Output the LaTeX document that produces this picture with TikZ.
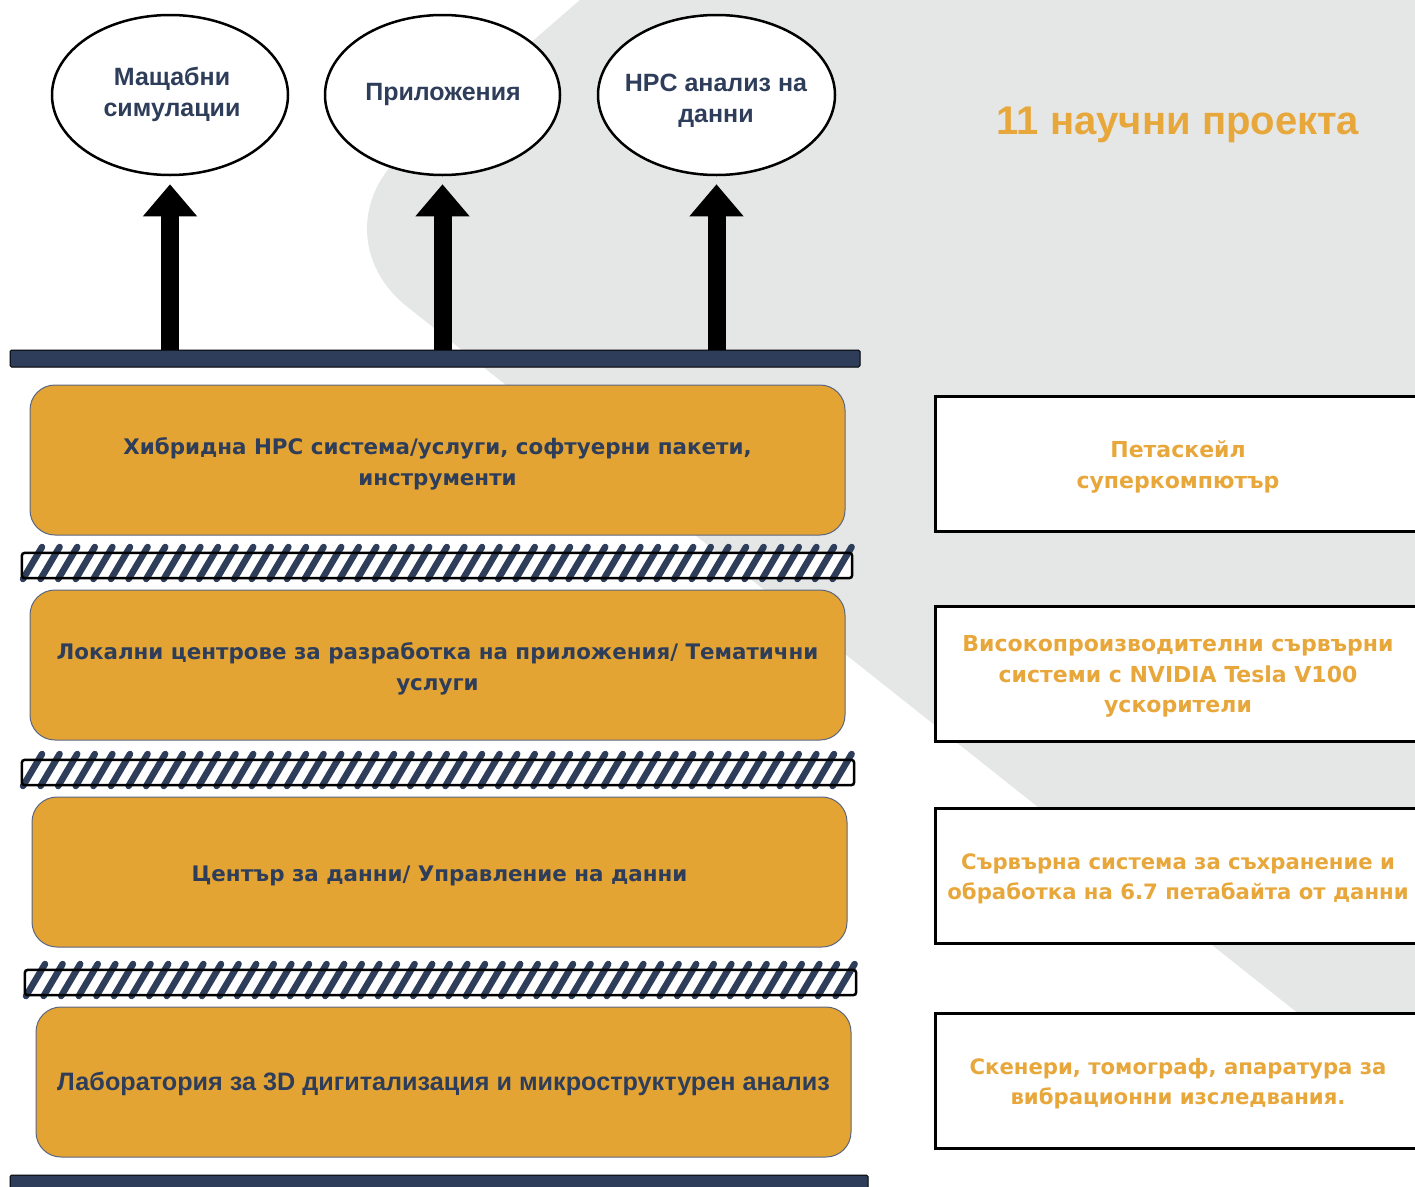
\documentclass[tikz,border=0pt]{standalone}
\usepackage{fontspec}
\setmainfont{DejaVu Sans}
\newfontfamily\arialf{Liberation Sans}
\usetikzlibrary{arrows.meta,shapes.geometric}
\definecolor{navy}{HTML}{2E3D5A}
\definecolor{orng}{HTML}{E4A433}
\definecolor{otext}{HTML}{E8A73A}
\definecolor{bggray}{HTML}{E5E6E6}
\definecolor{oborder}{HTML}{5A6680}
\newcommand{\hatchstripes}[4]{% x1,y1(top),x2,y2(bottom)
  \foreach \i in {0,...,46} {
    \pgfmathsetmacro\xx{#1+1+\i*17.6}
    \draw[navy, line width=6.5pt, line cap=round] (\xx,#4+1) -- (\xx+19,#2-6);
  }
}
\begin{document}
\begin{tikzpicture}[x=1pt,y=-1pt,
  ell/.style={draw=black, line width=2.5pt, fill=white, ellipse, inner sep=0pt},
  elltext/.style={font=\arialf\bfseries\fontsize{25}{31}\selectfont, text=navy, align=center},
  obox/.style={draw=oborder, line width=1pt, fill=orng, rounded corners=25pt, inner sep=0pt,
    minimum width=815pt, minimum height=150pt},
  otxt/.style={align=center, text=navy, inner sep=0pt, font=\bfseries\fontsize{21.4}{31}\selectfont},
  rbox/.style={draw=black, line width=3pt, fill=white, inner sep=0pt,
    minimum width=486pt, minimum height=135pt},
  rtxt/.style={align=center, text=otext, inner sep=0pt, font=\bfseries\fontsize{22}{30.5}\selectfont},
  rtxtsmall/.style={rtxt, font=\bfseries\fontsize{21.2}{30.5}\selectfont},
  navybar/.style={draw=black, line width=1pt, fill=navy, inner sep=0pt, rounded corners=1.5pt},
  hatchbox/.style={fill=white, inner sep=0pt},
  hatchline/.style={draw=black, line width=2.5pt, rounded corners=3pt},
  bigarrow/.style={line width=18pt, -{Triangle[width=52pt,length=32pt]}, shorten >=8pt}
]
\path[use as bounding box] (0,0) rectangle (1415,1186);
\clip (0,0) rectangle (1415,1186);
\fill[white] (0,0) rectangle (1415,1186);
\fill[bggray, rounded corners=120pt] (925,-300) -- (313,232) -- (1700,1332) -- (1700,-300) -- cycle;

% ellipses
\node[ell, minimum width=236pt, minimum height=160pt] (e1) at (170,95) {};
\node[ell, minimum width=235pt, minimum height=160pt] (e2) at (442.5,95) {};
\node[ell, minimum width=237pt, minimum height=160pt] (e3) at (716.5,95) {};
\node[elltext] (e1t) at (172,94) {Мащабни\\симулации};
\node[elltext] (e2t) at (443,94) {Приложения};
\node[elltext] (e3t) at (716,100.5) {HPC анализ на\\данни};

% top bar
\node[navybar, minimum width=850pt, minimum height=17pt] (topbar) at (435,358.5) {};
\draw[bigarrow] (topbar.north -| e1) -- (e1.south);
\draw[bigarrow] (topbar.north -| e2) -- (e2.south);
\draw[bigarrow] (topbar.north -| e3) -- (e3.south);

% layers
\node[obox] (l1) at (437.5,460) {};
\node[otxt] (l1t) at ([yshift=-3.5pt]l1.center) {Хибридна HPC система/услуги, софтуерни пакети,\\инструменти};
\node[obox] (l2) at (437.5,665) {};
\node[otxt] (l2t) at ([yshift=-3.5pt]l2.center) {Локални центрове за разработка на приложения/ Тематични\\услуги};
\node[obox] (l3) at (439.5,872) {};
\node[otxt] (l3t) at ([yshift=-3.5pt]l3.center) {Център за данни/ Управление на данни};
\node[obox] (l4) at (443.5,1082) {};
\node[otxt, font=\arialf\bfseries\fontsize{25.2}{30}\selectfont] (l4t) at ([yshift=-2pt]l4.center) {Лаборатория за 3D дигитализация и микроструктурен анализ};

% hatched separators
\node[hatchbox, minimum width=830pt, minimum height=25pt] (hb1) at (437,565.5) {};
\hatchstripes{22}{553}{852}{578}
\draw[hatchline] (hb1.south west) rectangle (hb1.north east);
\node[hatchbox, minimum width=832pt, minimum height=25pt] (hb2) at (438,772.5) {};
\hatchstripes{22}{760}{854}{785}
\draw[hatchline] (hb2.south west) rectangle (hb2.north east);
\node[hatchbox, minimum width=831pt, minimum height=25pt] (hb3) at (440.5,982.5) {};
\hatchstripes{25}{970}{856}{995}
\draw[hatchline] (hb3.south west) rectangle (hb3.north east);

% bottom bar
\node[navybar, minimum width=858pt, minimum height=22pt] (botbar) at (439,1186) {};

% title
\node[font=\arialf\bfseries\fontsize{40}{44}\selectfont, text=otext] (title) at (1178,125) {11 научни проекта};

% right boxes
\node[rbox] (r1) at (1178,463.5) {};
\node[rtxt] (r1t) at ([yshift=-3.5pt]r1.center) {Петаскейл\\суперкомпютър};
\node[rbox] (r2) at (1178,673.5) {};
\node[rtxt] (r2t) at ([yshift=-3pt]r2.center) {Високопроизводителни сървърни\\системи с NVIDIA Tesla V100\\ускорители};
\node[rbox] (r3) at (1178,875.5) {};
\node[rtxtsmall] (r3t) at ([yshift=-3.5pt]r3.center) {Сървърна система за съхранение и\\обработка на 6.7 петабайта от данни};
\node[rbox] (r4) at (1178,1080.5) {};
\node[rtxtsmall] (r4t) at ([yshift=-3pt]r4.center) {Скенери, томограф, апаратура за\\вибрационни изследвания.};
\end{tikzpicture}
\end{document}
